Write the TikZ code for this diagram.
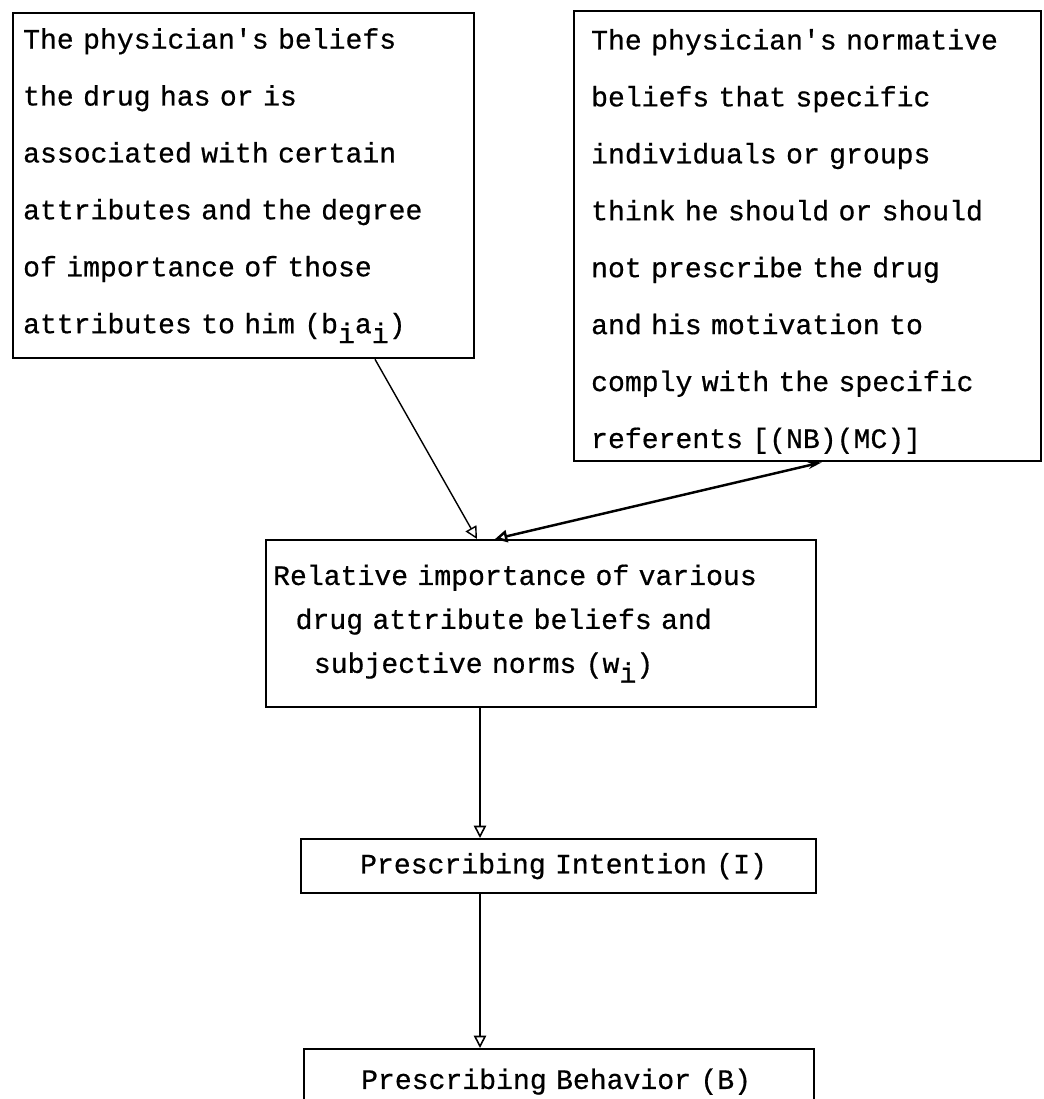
\documentclass[tikz,border=0pt]{standalone}
\usepackage{fontspec}
\usepackage{tikz}
\usetikzlibrary{arrows.meta}
\newfontfamily\typewr[FakeBold=0.6]{Liberation Mono}

\begin{document}
\begin{tikzpicture}[>={Triangle[open,length=7pt,width=7pt]},semithick]
  \tikzstyle{every node}=[font=\typewr\fontsize{16}{32.4}\selectfont]
  \tikzstyle{box}=[draw,line width=1.3pt,anchor=north west,align=left,
                   inner xsep=0.2cm,inner ysep=0pt]
  \tikzstyle{link}=[->,line width=0.9pt]

  \useasboundingbox (0,0) rectangle (20.86,-21.98);
  \clip (0,0) rectangle (20.86,-21.98);

  \node(beliefs) [box,text width=8.82cm,minimum height=6.9cm] at (0.24,-0.24)
    {The physician\textquotesingle s beliefs\\
     the drug has or is\\
     associated with certain\\
     attributes and the degree\\
     of importance of those\\
     attributes to him (b\raisebox{-.35em}{i}a\raisebox{-.35em}{i})};
  \node(norms)   [box,inner xsep=0.34cm,text width=8.66cm,minimum height=9.0cm] at (11.46,-0.2)
    {\rule{0pt}{0.62cm}The physician\textquotesingle s normative\\
     beliefs that specific\\
     individuals or groups\\
     think he should or should\\
     not prescribe the drug\\
     and his motivation to\\
     comply with the specific\\
     referents [(NB)(MC)]};
  \node(relimp)  [box,inner xsep=0.14cm,text width=10.72cm,minimum height=3.34cm,
                  font=\typewr\fontsize{16}{25}\selectfont] at (5.3,-10.78)
    {Relative importance of various\\
     \hspace*{0.8em}drug attribute beliefs and\\
     \hspace*{1.45em}subjective norms (w\raisebox{-.35em}{i})};
  \node(intent)  [box,text width=9.9cm,minimum height=1.08cm] at (6.0,-16.76)
    {\hspace*{0.98cm}Prescribing Intention (I)};
  \node(behav)   [box,text width=9.8cm,minimum height=1.3cm] at (6.06,-20.96)
    {\hspace*{0.94cm}Prescribing Behavior (B)};

  \coordinate (col) at (9.6,0);

  \draw[link,line width=0.8pt] ([xshift=7.26cm]beliefs.south west)
        -- ([xshift=4.24cm]relimp.north west);
  \draw[{Stealth[length=8pt,width=4pt]}->,line width=1.4pt]
        ([xshift=4.98cm]norms.south west) -- ([xshift=4.6cm]relimp.north west);
  \draw[link] (relimp.south -| col) -- (intent.north -| col);
  \draw[link] (intent.south -| col) -- (behav.north -| col);
\end{tikzpicture}
\end{document}
